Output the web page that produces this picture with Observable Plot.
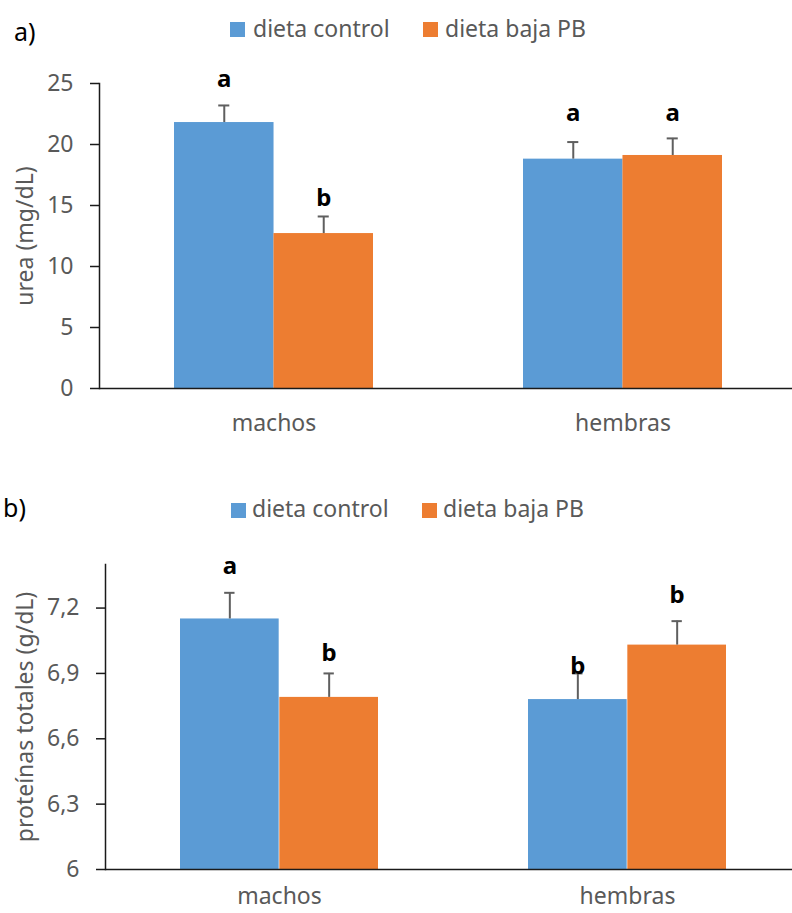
<!DOCTYPE html>
<html>
<head>
<meta charset="utf-8">
<script src="https://cdn.jsdelivr.net/npm/d3@7"></script>
<script src="https://cdn.jsdelivr.net/npm/@observablehq/plot@0.6"></script>
<style>
  html, body { margin: 0; padding: 0; background: #fff; overflow: hidden; }
  #wrap { position: relative; width: 792px; height: 913px; overflow: hidden; font-family: "Noto Sans", sans-serif; }
  .abs { position: absolute; white-space: nowrap; }
  .sw { position: absolute; width: 15px; height: 15px; }
  .lt { position: absolute; font-size: 23px; line-height: 23px; color: #595959; white-space: nowrap; }
  .panel { position: absolute; left: 0; width: 802px; }
  .panel svg { max-width: none !important; }
</style>
</head>
<body>
<div id="wrap"></div>
<script>
// ---------- data ----------
const groups = ["machos", "hembras"];
const seriesNames = ["dieta control", "dieta baja PB"];
const seriesColors = ["#5B9BD5", "#ED7D31"];

// panel a: urea (mg/dL)
const ureaControl = [21.8, 18.8];
const ureaBaja = [12.7, 19.1];
const ureaControlErr = [1.4, 1.4];
const ureaBajaErr = [1.4, 1.4];
const ureaControlLetters = ["a", "a"];
const ureaBajaLetters = ["b", "a"];
const ureaControlLetterY = [24.75, 21.9];
const ureaBajaLetterY = [15.0, 21.9];
const ureaTicks = [0, 5, 10, 15, 20, 25];
const ureaTickLabels = ["0", "5", "10", "15", "20", "25"];

// panel b: proteínas totales (g/dL)
const protControl = [7.15, 6.78];
const protBaja = [6.79, 7.03];
const protControlErr = [0.12, 0.12];
const protBajaErr = [0.11, 0.11];
const protControlLetters = ["a", "b"];
const protBajaLetters = ["b", "b"];
const protControlLetterY = [7.355, 6.896];
const protBajaLetterY = [6.956, 7.223];
const protTicks = [6, 6.3, 6.6, 6.9, 7.2];
const protTickLabels = ["6", "6,3", "6,6", "6,9", "7,2"];

function rowsFor(ctrl, baja, ctrlErr, bajaErr, ctrlL, bajaL, ctrlLY, bajaLY) {
  return {
    control: groups.map((g, i) => ({group: g, value: ctrl[i], err: ctrlErr[i], letter: ctrlL[i], ly: ctrlLY[i]})),
    baja: groups.map((g, i) => ({group: g, value: baja[i], err: bajaErr[i], letter: bajaL[i], ly: bajaLY[i]}))
  };
}

const AXIS = "#1a1a1a";
const ERR = "#5f5f5f";
const TXT = "#595959";
const PADI = 0.43;

function makePanel(cfg) {
  const {rows, yDomain, ticks, tickLabels, ylabel, mL, mR, mT, mB, height, width, xPad, yLabelDx} = cfg;
  const R = width - mL - mR;
  const step = R / 2;
  const bw = step * (1 - PADI);
  const half = bw / 2;
  const cap = 5.5;
  const base = yDomain[0];
  return Plot.plot({
    width, height,
    marginLeft: mL, marginRight: mR, marginTop: mT, marginBottom: mB,
    style: {fontFamily: "Noto Sans", fontSize: "23px", color: TXT, background: "transparent", overflow: "visible", maxWidth: "none"},
    x: {domain: groups, paddingInner: PADI, paddingOuter: PADI / 2, label: null},
    y: {domain: yDomain, label: null},
    marks: [
      Plot.barY(rows.control, {x: "group", y1: base, y2: "value", fill: seriesColors[0], insetRight: half}),
      Plot.barY(rows.baja, {x: "group", y1: base, y2: "value", fill: seriesColors[1], insetLeft: half}),
      Plot.ruleX(rows.control, {x: "group", y1: "value", y2: d => d.value + d.err, dx: -half / 2, stroke: ERR, strokeWidth: 2}),
      Plot.ruleX(rows.baja, {x: "group", y1: "value", y2: d => d.value + d.err, dx: half / 2, stroke: ERR, strokeWidth: 2}),
      Plot.tickY(rows.control, {x: "group", y: d => d.value + d.err, insetLeft: bw / 4 - cap, insetRight: 3 * bw / 4 - cap, stroke: ERR, strokeWidth: 2}),
      Plot.tickY(rows.baja, {x: "group", y: d => d.value + d.err, insetLeft: 3 * bw / 4 - cap, insetRight: bw / 4 - cap, stroke: ERR, strokeWidth: 2}),
      Plot.text(rows.control, {x: "group", y: "ly", text: "letter", dx: -half / 2, lineAnchor: "bottom", fontWeight: "bold", fill: "#000", fontSize: 24}),
      Plot.text(rows.baja, {x: "group", y: "ly", text: "letter", dx: half / 2, lineAnchor: "bottom", fontWeight: "bold", fill: "#000", fontSize: 24}),
      Plot.axisY({ticks, tickFormat: d => tickLabels[ticks.indexOf(d)], tickSize: 9, tickPadding: 17, stroke: AXIS, strokeWidth: 1.5, fill: TXT, fontSize: 23, label: null}),
      Plot.axisX({tickSize: 0, tickPadding: xPad, fill: TXT, fontSize: 23, label: null}),
      Plot.frame({anchor: "left", stroke: AXIS, strokeWidth: 1.5}),
      Plot.ruleY([base], {stroke: AXIS, strokeWidth: 1.5}),
      Plot.text([ylabel], {frameAnchor: "left", rotate: -90, dx: yLabelDx, fill: TXT, fontSize: 23, textAnchor: "middle", lineAnchor: "middle"})
    ]
  });
}

const wrap = document.getElementById("wrap");

function addLegend(topSq, topText, sqX, textX) {
  seriesNames.forEach((name, i) => {
    const sq = document.createElement("div");
    sq.className = "sw";
    sq.style.left = sqX[i] + "px";
    sq.style.top = topSq + "px";
    sq.style.background = seriesColors[i];
    wrap.appendChild(sq);
    const t = document.createElement("div");
    t.className = "lt";
    t.style.left = textX[i] + "px";
    t.style.top = topText + "px";
    t.textContent = name;
    wrap.appendChild(t);
  });
}

function addTag(text, left, top) {
  const t = document.createElement("div");
  t.className = "abs";
  t.style.left = left + "px";
  t.style.top = top + "px";
  t.style.fontSize = "25px";
  t.style.lineHeight = "25px";
  t.style.color = "#000";
  t.textContent = text;
  wrap.appendChild(t);
}

// panel a
addTag("a)", 14, 19);
addLegend(22, 16.6, [230, 423], [253, 445]);
const ra = rowsFor(ureaControl, ureaBaja, ureaControlErr, ureaBajaErr, ureaControlLetters, ureaBajaLetters, ureaControlLetterY, ureaBajaLetterY);
const pa = makePanel({rows: ra, yDomain: [0, 25], ticks: ureaTicks, tickLabels: ureaTickLabels, ylabel: "urea (mg/dL)",
  mL: 99, mR: 5, mT: 33, mB: 45, height: 383, width: 802, xPad: 26, yLabelDx: -74});
const da = document.createElement("div");
da.className = "panel";
da.style.top = "50px";
da.appendChild(pa);
wrap.appendChild(da);

// panel b
addTag("b)", 3, 495);
addLegend(503, 496.6, [231, 422], [252, 443]);
const rb = rowsFor(protControl, protBaja, protControlErr, protBajaErr, protControlLetters, protBajaLetters, protControlLetterY, protBajaLetterY);
const pb = makePanel({rows: rb, yDomain: [6, 7.4], ticks: protTicks, tickLabels: protTickLabels, ylabel: "proteínas totales (g/dL)",
  mL: 105, mR: 0, mT: 24, mB: 44, height: 373, width: 802, xPad: 18, yLabelDx: -80});
const db = document.createElement("div");
db.className = "panel";
db.style.top = "540px";
db.appendChild(pb);
wrap.appendChild(db);
</script>
</body>
</html>
